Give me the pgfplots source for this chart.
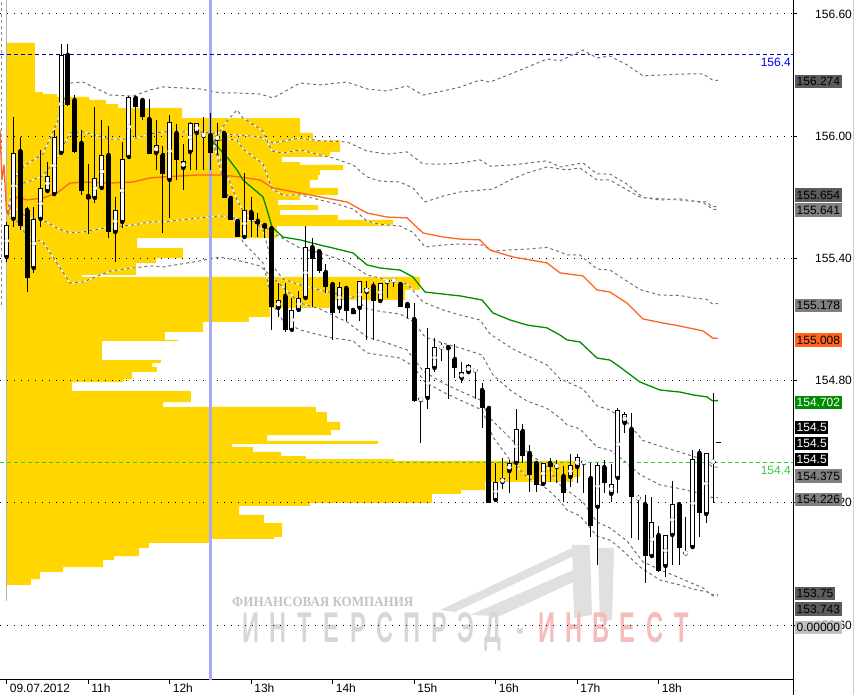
\documentclass[border=0pt]{standalone}
\usepackage{fontspec}
\setmainfont{Liberation Sans}
\newfontfamily\wmserif{Liberation Serif}
\usepackage{pgfplots}
\usepackage{pgfplotstable}
\pgfplotsset{compat=1.18}

\definecolor{vpgold}{RGB}{255,214,0}
\definecolor{vwapor}{RGB}{255,100,32}
\definecolor{vwapgr}{RGB}{0,140,0}
\definecolor{bandgr}{RGB}{112,112,112}
\definecolor{vline}{RGB}{168,168,248}
\definecolor{lvlblue}{RGB}{0,0,200}
\definecolor{lvlgreen}{RGB}{60,200,60}
\definecolor{wmgrey}{RGB}{224,224,224}
\definecolor{wmtext}{RGB}{195,195,195}
\definecolor{wmtextb}{RGB}{215,215,215}
\definecolor{wmpink}{RGB}{245,188,188}
\definecolor{boxdk}{RGB}{92,92,92}
\definecolor{boxmd}{RGB}{128,128,128}
\definecolor{boxlt}{RGB}{192,192,192}

\newcommand\wl[1]{\makebox[49pt][c]{#1}}
\newcommand\plabel[4]{\node[anchor=west, fill=#2, text=#3, inner xsep=1.5pt, inner ysep=0pt, minimum height=13.5pt, font=\fontsize{12}{12}\selectfont] at (795pt,#1pt) {#4};}

% 5-minute candles, up (white) bodies: t = hours after 10:00
\pgfplotstableread{
t o h l c
0 155.407 155.579 155.382 155.564
0.083 155.594 156.094 155.554 155.918
0.333 155.353 155.653 155.328 155.594
0.417 155.594 155.932 155.554 155.746
0.5 155.731 155.873 155.721 155.805
0.583 155.716 156.031 155.716 155.996
0.667 155.918 156.453 155.918 156.399
1.083 155.697 156.143 155.672 155.795
1.167 155.746 156.080 155.746 155.908
1.333 155.530 155.702 155.382 155.638
1.417 155.579 155.972 155.549 155.888
1.5 155.898 156.198 155.893 156.193
1.833 155.918 156.080 155.834 155.957
2 155.785 156.104 155.598 156.070
2.167 155.844 155.962 155.736 155.878
2.25 155.923 156.070 155.834 156.065
2.333 156.016 156.065 155.834 156.065
2.417 156.001 156.094 155.834 156.011
2.583 155.986 156.065 155.908 156.001
2.917 155.505 155.819 155.505 155.638
3.333 155.157 155.279 155.112 155.196
3.5 155.049 155.206 155.049 155.147
3.583 155.147 155.240 155.147 155.206
3.667 155.206 155.559 155.206 155.456
4.083 155.157 155.284 155.132 155.260
4.333 155.157 155.289 155.093 155.289
4.417 155.235 155.289 155.000 155.255
4.583 155.191 155.279 155.191 155.279
4.667 155.284 155.294 155.206 155.294
4.75 155.292 155.297 155.260 155.297
5.083 154.705 154.715 154.494 154.715
5.167 154.715 155.058 154.661 154.862
5.25 154.862 155.009 154.842 154.965
5.333 154.963 154.985 154.896 154.968
5.583 154.813 154.892 154.788 154.842
5.667 154.842 154.882 154.842 154.877
5.75 154.850 154.855 154.710 154.855
6 154.214 154.396 154.204 154.302
6.083 154.302 154.420 154.268 154.322
6.167 154.356 154.410 154.248 154.396
6.25 154.396 154.661 154.312 154.563
6.583 154.293 154.396 154.283 154.396
6.75 154.376 154.410 154.298 154.386
6.917 154.327 154.440 154.278 154.386
7 154.376 154.440 154.298 154.425
7.083 154.396 154.410 154.248 154.406
7.25 154.180 154.396 153.895 154.386
7.417 154.244 154.391 154.204 154.293
7.5 154.322 154.666 154.248 154.656
7.583 154.592 154.646 154.543 154.636
7.75 154.222 154.239 154.018 154.227
7.917 153.939 154.229 153.929 154.106
8.083 153.890 154.042 153.836 154.042
8.167 154.042 154.307 153.895 154.194
8.333 153.952 154.131 153.949 153.957
8.417 153.983 154.460 153.983 154.415
8.583 154.145 154.445 154.101 154.445
8.667 154.401 154.739 154.199 154.406
}\upc

% down (black) bodies
\pgfplotstableread{
t o h l c
0.167 155.927 155.996 155.540 155.559
0.25 155.638 155.653 155.235 155.304
0.75 156.399 156.453 156.148 156.153
0.833 156.178 156.202 155.918 155.923
0.917 155.967 156.031 155.711 155.731
1 155.707 155.864 155.520 155.692
1.25 155.908 156.050 155.500 155.530
1.583 156.188 156.188 155.996 156.143
1.667 156.178 156.178 156.080 156.094
1.75 156.085 156.183 155.913 155.913
1.917 155.908 155.952 155.525 155.815
2.083 156.016 156.060 155.785 155.883
2.5 156.006 156.114 155.834 155.918
2.667 156.016 156.021 155.697 155.697
2.75 155.697 155.697 155.589 155.589
2.833 155.584 155.584 155.505 155.505
3 155.628 155.702 155.505 155.589
3.083 155.584 155.623 155.505 155.569
3.167 155.564 155.569 155.500 155.549
3.25 155.549 155.549 155.049 155.162
3.417 155.216 155.279 155.039 155.049
3.75 155.456 155.500 155.162 155.397
3.833 155.436 155.436 155.328 155.338
3.917 155.333 155.373 155.230 155.260
4 155.274 155.279 155.000 155.132
4.167 155.255 155.255 155.093 155.142
4.25 155.147 155.147 155.127 155.127
4.5 155.265 155.284 155.000 155.191
4.833 155.274 155.274 155.162 155.162
4.917 155.176 155.176 155.108 155.157
5 155.103 155.181 154.695 154.700
5.417 154.965 154.965 154.710 154.955
5.5 154.906 154.980 154.813 154.862
5.833 154.754 154.788 154.568 154.666
5.917 154.666 154.666 154.199 154.199
6.333 154.553 154.587 154.396 154.430
6.417 154.445 154.484 154.253 154.337
6.5 154.396 154.396 154.253 154.288
6.667 154.396 154.420 154.302 154.376
6.833 154.332 154.381 154.204 154.248
7.167 154.322 154.396 154.032 154.086
7.333 154.376 154.410 154.248 154.298
7.667 154.563 154.641 154.028 154.229
7.833 154.194 154.239 153.807 153.939
8 154.042 154.086 153.861 153.866
8.25 154.194 154.194 153.895 153.978
8.5 154.445 154.464 154.032 154.150
}\dnc

% session VWAP (orange) with +-1 and +-2 sigma bands
\pgfplotstableread{
t v u1 d1 u2 d2
0.004 155.623 155.623 155.623 155.623 155.623
0.126 155.702 155.761 155.643 155.820 155.584
0.249 155.687 155.775 155.599 155.864 155.510
0.445 155.697 155.805 155.589 155.913 155.481
0.617 155.721 155.893 155.549 156.065 155.377
0.777 155.770 156.016 155.525 156.261 155.279
0.937 155.775 156.021 155.530 156.266 155.284
1.268 155.770 155.986 155.554 156.202 155.338
1.550 155.775 155.986 155.564 156.197 155.353
1.758 155.795 156.011 155.579 156.227 155.363
1.918 155.800 156.021 155.579 156.242 155.358
2.372 155.810 156.021 155.599 156.232 155.388
2.617 155.810 156.011 155.609 156.213 155.407
2.863 155.800 156.006 155.594 156.212 155.388
3.108 155.785 155.996 155.574 156.207 155.363
3.268 155.746 155.967 155.525 156.188 155.304
3.599 155.721 155.991 155.451 156.261 155.181
3.844 155.702 155.977 155.427 156.252 155.152
4.176 155.677 155.972 155.382 156.266 155.088
4.421 155.623 155.927 155.319 156.232 155.014
4.666 155.603 155.912 155.294 156.222 154.985
4.912 155.599 155.923 155.275 156.247 154.951
5.108 155.525 155.864 155.186 156.202 154.848
5.353 155.505 155.863 155.147 156.222 154.788
5.562 155.495 155.868 155.122 156.241 154.749
5.807 155.491 155.884 155.098 156.276 154.706
5.930 155.441 155.853 155.029 156.266 154.616
6.212 155.407 155.859 154.955 156.310 154.504
6.629 155.378 155.879 154.877 156.379 154.377
6.789 155.329 155.849 154.809 156.370 154.288
7.071 155.314 155.869 154.759 156.423 154.204
7.243 155.245 155.815 154.676 156.384 154.106
7.402 155.235 155.814 154.656 156.394 154.077
7.611 155.181 155.765 154.597 156.350 154.013
7.807 155.103 155.699 154.506 156.296 153.910
8.053 155.083 155.692 154.474 156.301 153.866
8.261 155.068 155.687 154.449 156.305 153.831
8.544 155.044 155.675 154.413 156.306 153.782
8.666 155.008 155.641 154.375 156.274 153.743
8.727 155.008 155.641 154.375 156.274 153.743
}\orng

% VWAP anchored at 12:30 (green) with +-1 and +-2 sigma bands
\pgfplotstableread{
t v u1 d1 u2 d2
2.531 155.972 155.972 155.972 155.972 155.972
2.703 155.898 155.986 155.810 156.075 155.721
2.826 155.834 155.981 155.687 156.129 155.539
2.899 155.785 155.937 155.633 156.089 155.481
3.145 155.702 155.864 155.540 156.026 155.378
3.206 155.623 155.795 155.451 155.967 155.279
3.255 155.554 155.741 155.368 155.927 155.181
3.390 155.505 155.711 155.299 155.917 155.093
3.599 155.491 155.712 155.270 155.933 155.049
3.844 155.466 155.687 155.245 155.908 155.024
4.004 155.451 155.672 155.230 155.893 155.009
4.249 155.427 155.643 155.211 155.859 154.995
4.421 155.368 155.584 155.152 155.800 154.936
4.580 155.353 155.567 155.140 155.780 154.926
4.826 155.343 155.559 155.127 155.775 154.911
4.985 155.309 155.528 155.091 155.746 154.872
5.133 155.235 155.456 155.014 155.677 154.793
5.353 155.225 155.466 154.984 155.706 154.744
5.562 155.216 155.471 154.961 155.726 154.705
5.832 155.196 155.466 154.926 155.736 154.656
5.967 155.132 155.436 154.828 155.741 154.523
6.175 155.098 155.442 154.754 155.785 154.411
6.384 155.073 155.446 154.700 155.819 154.327
6.629 155.059 155.454 154.664 155.849 154.269
6.789 155.024 155.432 154.617 155.839 154.209
6.875 155.000 155.417 154.583 155.835 154.165
7.034 154.990 155.417 154.563 155.844 154.136
7.243 154.911 155.348 154.474 155.785 154.037
7.402 154.901 155.343 154.459 155.785 154.017
7.525 154.867 155.311 154.423 155.756 153.978
7.771 154.793 155.247 154.339 155.701 153.885
8.016 154.754 155.220 154.288 155.687 153.821
8.261 154.744 155.218 154.270 155.692 153.797
8.421 154.730 155.206 154.254 155.682 153.777
8.593 154.720 155.199 154.241 155.677 153.763
8.654 154.702 155.178 154.226 155.654 153.750
8.727 154.702 155.178 154.226 155.654 153.750
}\grn

\begin{document}
\begin{tikzpicture}
% watermark logo and text
\fill[wmgrey] (440pt,85pt) -- (572pt,147pt) -- (580pt,142pt) -- (455pt,83pt) -- cycle;
\fill[wmgrey] (470pt,80pt) -- (578pt,127pt) -- (582pt,117pt) -- (500pt,79pt) -- cycle;
\fill[wmgrey] (572pt,150pt) -- (590pt,150pt) -- (592pt,80pt) -- (574pt,77pt) -- cycle;
\fill[wmgrey] (598pt,147pt) -- (614pt,147pt) -- (612pt,75pt) -- (600pt,73pt) -- cycle;
\node[anchor=west, inner sep=0pt, text=wmtext, xscale=0.93] at (232pt,93pt) {\wmserif\bfseries\fontsize{14}{14}\selectfont ФИНАНСОВАЯ КОМПАНИЯ};
\node[anchor=west, inner sep=0pt, xscale=0.55] at (237pt,63pt) {\fontsize{43}{43}\selectfont\bfseries\color{wmtextb}\wl{И}\wl{Н}\wl{Т}\wl{Е}\wl{Р}\wl{С}\wl{П}\wl{Р}\wl{Э}\wl{Д}\wl{-}\color{wmpink}\wl{И}\wl{Н}\wl{В}\wl{Е}\wl{С}\wl{Т}};

\begin{axis}[
 at={(0pt,15pt)}, anchor=south west,
 scale only axis, width=793pt, height=680pt,
 xmin=-0.0822, xmax=9.648, ymin=153.3304, ymax=156.6687,
 axis x line*=bottom, axis y line*=right,
 axis line style={black, line width=1pt},
 xtick={0,1,2,3,4,5,6,7,8},
 xticklabels={09.07.2012,11h,12h,13h,14h,15h,16h,17h,18h},
 ytick={153.6,154.2,154.8,155.4,156.0,156.6},
 yticklabels={153.60,154.20,154.80,155.40,156.00,156.60},
 tick align=outside, major tick length=4pt,
 tick style={black, line width=1pt},
 ticklabel style={font=\fontsize{12}{12}\selectfont, text=black},
 xticklabel style={anchor=north west, inner sep=0pt, xshift=3pt, yshift=0pt},
 yticklabel style={anchor=west, inner sep=0pt, xshift=18pt},
 /pgf/number format/assume math mode=true,
]
% volume profile (horizontal histogram from 10:00)
\addplot[fill=vpgold, draw=none] coordinates {
(0,156.458)
(0.347,156.458)(0.347,156.217)
(0.445,156.217)(0.445,156.207)
(0.617,156.207)(0.617,156.193)
(1.010,156.193)(1.010,156.178)
(1.218,156.178)(1.218,156.158)
(1.366,156.158)(1.366,156.139)
(2.151,156.139)(2.151,156.089)
(3.599,156.089)(3.599,156.016)
(3.758,156.016)(3.758,155.981)
(4.090,155.981)(4.090,155.923)
(3.967,155.923)(3.967,155.898)
(3.378,155.898)(3.378,155.873)
(3.599,155.873)(3.599,155.859)
(4.127,155.859)(4.127,155.834)
(3.844,155.834)(3.844,155.810)
(3.820,155.810)(3.820,155.785)
(3.721,155.785)(3.721,155.746)
(4.065,155.746)(4.065,155.711)
(3.599,155.711)(3.599,155.687)
(3.329,155.687)(3.329,155.662)
(3.820,155.662)(3.820,155.638)
(3.353,155.638)(3.353,155.613)
(4.065,155.613)(4.065,155.589)
(4.740,155.589)(4.740,155.559)
(3.316,155.559)(3.316,155.500)
(1.599,155.500)(1.599,155.451)
(2.163,155.451)(2.163,155.402)
(1.832,155.402)(1.832,155.378)
(1.587,155.378)(1.587,155.319)
(0.924,155.319)(0.924,155.309)
(5.071,155.309)(5.071,155.245)
(4.887,155.245)(4.887,155.196)
(3.967,155.196)(3.967,155.157)
(3.231,155.157)(3.231,155.113)
(2.973,155.113)(2.973,155.088)
(2.409,155.088)(2.409,155.039)
(1.942,155.039)(1.942,155.000)
(2.102,155.000)(2.102,154.995)
(1.169,154.995)(1.169,154.901)
(1.893,154.901)(1.893,154.887)
(1.783,154.887)(1.783,154.867)
(1.844,154.867)(1.844,154.843)
(1.538,154.843)(1.538,154.808)
(1.439,154.808)(1.439,154.793)
(0.801,154.793)(0.801,154.749)
(2.261,154.749)(2.261,154.695)
(1.918,154.695)(1.918,154.671)
(3.795,154.671)(3.795,154.646)
(3.930,154.646)(3.930,154.597)
(4.090,154.597)(4.090,154.558)
(3.979,154.558)(3.979,154.533)
(3.194,154.533)(3.194,154.504)
(4.556,154.504)(4.556,154.489)
(2.764,154.489)(2.764,154.474)
(3.022,154.474)(3.022,154.450)
(3.366,154.450)(3.366,154.430)
(3.672,154.430)(3.672,154.415)
(4.752,154.415)(4.752,154.406)
(7.034,154.406)(7.034,154.327)
(6.948,154.327)(6.948,154.303)
(5.869,154.303)(5.869,154.263)
(5.574,154.263)(5.574,154.244)
(5.218,154.244)(5.218,154.200)
(3.721,154.200)(3.721,154.185)
(2.851,154.185)(2.851,154.141)
(3.157,154.141)(3.157,154.101)
(3.378,154.101)(3.378,154.033)
(3.280,154.033)(3.280,154.023)
(2.482,154.023)(2.482,154.003)
(1.746,154.003)(1.746,153.979)
(1.623,153.979)(1.623,153.939)
(1.317,153.939)(1.317,153.920)
(1.182,153.920)(1.182,153.885)
(0.691,153.885)(0.691,153.861)
(0.409,153.861)(0.409,153.826)
(0.298,153.826)(0.298,153.797)
(0,153.797)} -- cycle;

% session separators
\draw[color=black!30, line width=1pt] (axis cs:0,153.72) -- (axis cs:0,156.6687);
\draw[color=black!45, line width=1pt, dash pattern=on 3pt off 3pt] (axis cs:-0.058,155.17) -- (axis cs:-0.058,156.6687);
% dotted price grid
\pgfplotsinvokeforeach{153.6,154.2,154.8,155.4,156.0,156.6}{
 \draw[black, line width=1pt, dash pattern=on 1pt off 6pt] (axis cs:-0.0822,#1) -- (axis cs:9.648,#1);
}
% anchor time line (12:30)
\draw[vline, line width=3pt] (axis cs:2.5,153.3304) -- (axis cs:2.5,156.6687);
% price levels
\draw[lvlblue, line width=1pt, dash pattern=on 4pt off 3pt] (axis cs:-0.0822,156.4) -- (axis cs:9.648,156.4);
\draw[lvlgreen, line width=1pt, dash pattern=on 4pt off 3pt] (axis cs:-0.0822,154.4) -- (axis cs:9.648,154.4);

% sigma bands
\pgfplotsinvokeforeach{u1,d1,u2,d2}{
 \addplot[white, line width=1pt, line join=round] table[x=t, y=#1] {\orng};
 \addplot[bandgr, line width=1pt, dash pattern=on 3pt off 3pt] table[x=t, y=#1] {\orng};
 \addplot[white, line width=1pt, line join=round] table[x=t, y=#1] {\grn};
 \addplot[bandgr, line width=1pt, dash pattern=on 3pt off 3pt] table[x=t, y=#1] {\grn};
}
% VWAP lines
\addplot[vwapor, line width=1.3pt, line join=round] coordinates {(-0.082,156.031)(-0.058,155.785)(-0.033,155.859)(-0.002,155.623)};
\addplot[vwapor, line width=1.3pt, line join=round] table[x=t, y=v] {\orng};
\addplot[vwapgr, line width=1.3pt, line join=round] table[x=t, y=v] {\grn};

% candles: wicks
\addplot[black, only marks, mark=none, error bars/.cd, y dir=both, y explicit, error mark=none, error bar style={black, solid, line width=1pt}] table[x=t, y=o, y error plus expr=\thisrow{h}-\thisrow{o}, y error minus expr=\thisrow{o}-\thisrow{l}] {\upc};
\addplot[black, only marks, mark=none, error bars/.cd, y dir=both, y explicit, error mark=none, error bar style={black, solid, line width=1pt}] table[x=t, y=o, y error plus expr=\thisrow{h}-\thisrow{o}, y error minus expr=\thisrow{o}-\thisrow{l}] {\dnc};
% candles: bodies
\addplot[black, only marks, mark=none, error bars/.cd, y dir=both, y explicit, error mark=none, error bar style={black, solid, line width=5pt}] table[x=t, y expr={(\thisrow{o}+\thisrow{c})/2}, y error expr={abs(\thisrow{c}-\thisrow{o})/2}] {\dnc};
\addplot[black, only marks, mark=none, error bars/.cd, y dir=both, y explicit, error mark=none, error bar style={black, solid, line width=5pt}] table[x=t, y expr={(\thisrow{o}+\thisrow{c})/2}, y error expr={abs(\thisrow{c}-\thisrow{o})/2}] {\upc};
\addplot[white, only marks, mark=none, error bars/.cd, y dir=both, y explicit, error mark=none, error bar style={white, solid, line width=3pt}] table[x=t, y expr={(\thisrow{o}+\thisrow{c})/2}, y error expr={max(abs(\thisrow{c}-\thisrow{o})/2-0.0049,0)}] {\upc};
\addplot[black, line width=1pt] coordinates {(8.70,154.494)(8.765,154.494)};
\end{axis}

% level labels inside plot
\node[anchor=east, inner sep=0pt, text=blue, font=\fontsize{12}{12}\selectfont] at (791pt,633pt) {156.4};
\node[anchor=east, inner sep=0pt, text=lvlgreen, font=\fontsize{12}{12}\selectfont] at (791pt,225pt) {154.4};
% right axis extension and frame line
\draw[black, line width=1pt] (793pt,0pt) -- (793pt,15pt);
\draw[black!20, line width=1pt] (853.5pt,0pt) -- (853.5pt,695pt);
% price boxes
\plabel{613.5}{boxdk}{black}{156.274}
\plabel{500}{boxdk}{black}{155.654}
\plabel{485}{boxmd}{black}{155.641}
\plabel{389.5}{boxmd}{black}{155.178}
\plabel{355}{vwapor}{black}{155.008}
\plabel{292.5}{vwapgr}{white}{154.702}
\plabel{267.5}{black}{white}{154.5}
\plabel{251.5}{black}{white}{154.5}
\plabel{235.5}{black}{white}{154.5}
\plabel{219}{boxmd}{black}{154.375}
\plabel{195.5}{boxmd}{black}{154.226}
\plabel{101.5}{boxdk}{black}{153.75}
\plabel{86}{boxdk}{black}{153.743}
\plabel{67.5}{boxlt}{black}{0.00000}
\pgfresetboundingbox
\useasboundingbox (0pt,0pt) rectangle (855pt,695pt);
\end{tikzpicture}
\end{document}
